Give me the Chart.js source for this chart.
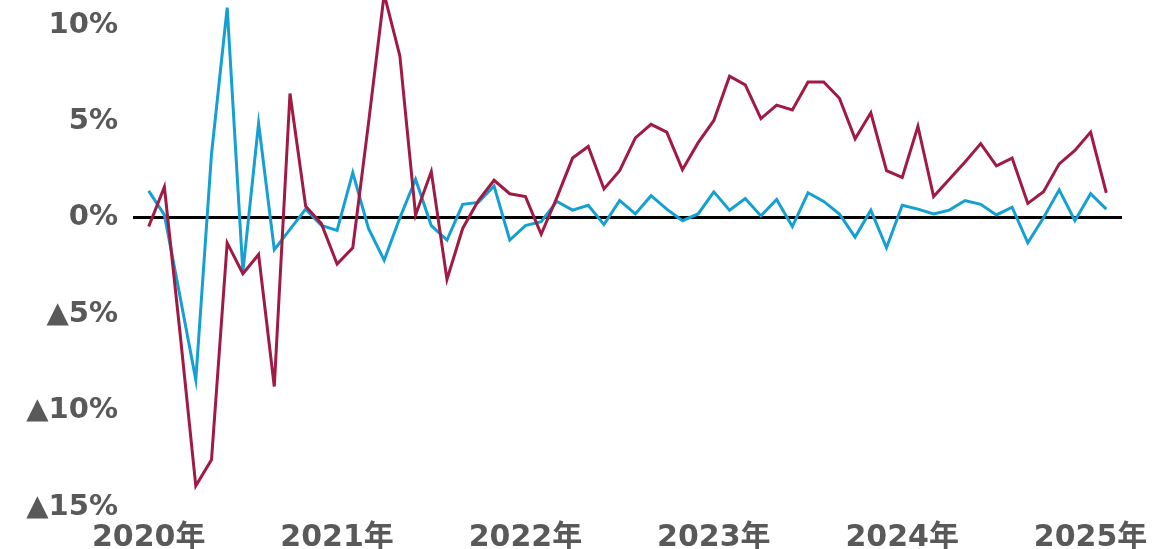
<!DOCTYPE html>
<html>
<head>
<meta charset="utf-8">
<script src="https://cdn.jsdelivr.net/npm/chart.js@4/dist/chart.umd.min.js"></script>
<style>
  html, body { margin: 0; padding: 0; background: #ffffff; }
  #wrap { width: 1157px; height: 549px; position: relative; }
</style>
</head>
<body>
<div id="wrap"><canvas id="c"></canvas></div>
<script>
// Monthly series, 2020-01 .. 2025-02 (62 months), % change
const redSeries = [
  -0.45, 1.6, -6.0, -13.9, -12.55, -1.3, -2.9, -1.9, -8.75, 6.45, 0.6, -0.3,
  -2.4, -1.55, 4.9, 11.6, 8.4, 0.15, 2.4, -3.2, -0.55, 0.9, 1.95, 1.25,
  1.1, -0.85, 1.05, 3.1, 3.7, 1.5, 2.45, 4.15, 4.85, 4.45, 2.5, 3.9,
  5.05, 7.35, 6.9, 5.15, 5.85, 5.6, 7.05, 7.05, 6.2, 4.1, 5.45, 2.45,
  2.1, 4.75, 1.1, 2.0, 2.9, 3.85, 2.7, 3.1, 0.75, 1.35, 2.8, 3.5,
  4.45, 1.3
];
const blueSeries = [
  1.4, 0.15, -4.1, -8.4, 3.3, 10.9, -2.8, 4.9, -1.65, -0.6, 0.45, -0.4,
  -0.65, 2.35, -0.55, -2.2, 0.0, 2.0, -0.4, -1.15, 0.7, 0.8, 1.65, -1.15,
  -0.4, -0.2, 0.85, 0.4, 0.65, -0.35, 0.9, 0.2, 1.15, 0.45, -0.15, 0.2,
  1.35, 0.4, 1.0, 0.1, 0.95, -0.45, 1.3, 0.85, 0.2, -1.0, 0.4, -1.55,
  0.65, 0.45, 0.2, 0.4, 0.9, 0.7, 0.15, 0.55, -1.3, 0.0, 1.45, -0.15,
  1.25, 0.45
];
const xTickIndex = [0, 12, 24, 36, 48, 60];
const xTickLabels = ['2020年', '2021年', '2022年', '2023年', '2024年', '2025年'];
const yTickValues = [-15, -10, -5, 0, 5, 10];
const yTickLabels = ['▲15%', '▲10%', '▲5%', '0%', '5%', '10%'];

const toPoints = arr => arr.map((v, i) => ({ x: i, y: v }));
const fam = '"DejaVu Sans", "Noto Sans CJK JP", sans-serif';

new Chart(document.getElementById('c'), {
  type: 'line',
  data: {
    datasets: [
      {
        data: toPoints(redSeries),
        borderColor: '#A01A44',
        borderWidth: 3,
        pointRadius: 0,
        tension: 0,
        order: 0
      },
      {
        data: toPoints(blueSeries),
        borderColor: '#14A0D2',
        borderWidth: 3,
        pointRadius: 0,
        tension: 0,
        order: 1
      }
    ]
  },
  options: {
    responsive: true,
    maintainAspectRatio: false,
    animation: false,
    layout: { padding: { left: 0, top: 0, bottom: 0, right: 35 } },
    plugins: { legend: { display: false }, tooltip: { enabled: false } },
    scales: {
      x: {
        type: 'linear',
        min: -1,
        max: 62,
        grid: { display: false },
        border: { display: false },
        afterBuildTicks: s => { s.ticks = xTickIndex.map(v => ({ value: v })); },
        afterFit: s => { s.height = 42; s.paddingLeft = 0; s.paddingRight = 0; },
        ticks: {
          autoSkip: false,
          maxRotation: 0,
          padding: 5,
          color: '#595959',
          font: { family: fam, size: 30, weight: 'bold' },
          callback: v => xTickLabels[xTickIndex.indexOf(v)]
        }
      },
      y: {
        min: -15,
        max: 11.3,
        border: { display: false },
        grid: {
          drawTicks: false,
          lineWidth: 3,
          color: c => (c.tick && c.tick.value === 0) ? '#000000' : 'rgba(0,0,0,0)'
        },
        afterBuildTicks: s => { s.ticks = yTickValues.map(v => ({ value: v })); },
        afterFit: s => { s.width = 133; s.paddingTop = 0; s.paddingBottom = 0; },
        ticks: {
          padding: 15,
          color: '#595959',
          font: { family: fam, size: 29, weight: 'bold' },
          callback: v => yTickLabels[yTickValues.indexOf(v)]
        }
      }
    }
  }
});
</script>
</body>
</html>
